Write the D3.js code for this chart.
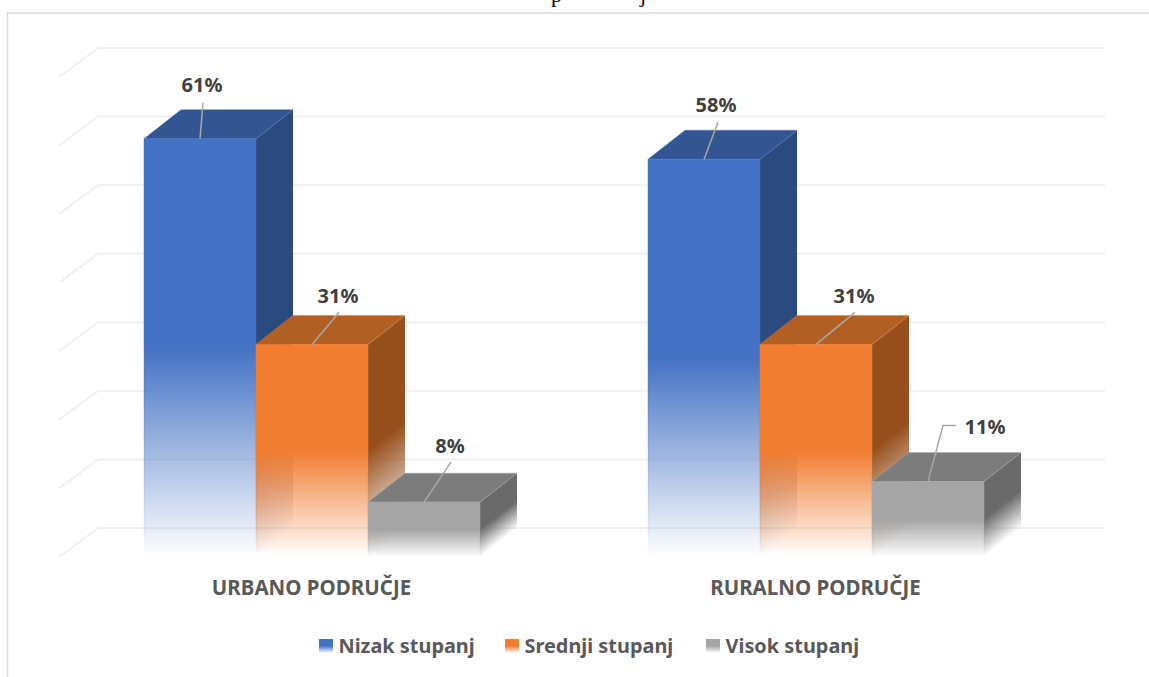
<!DOCTYPE html>
<html>
<head>
<meta charset="utf-8">
<script src="https://cdn.jsdelivr.net/npm/d3@7/dist/d3.min.js"></script>
<style>
html,body{margin:0;padding:0;background:#fff;overflow:hidden}
svg{display:block}
text{font-family:"Noto Sans",sans-serif;font-weight:700}
</style>
</head>
<body>
<svg id="chart" width="1149" height="677"></svg>
<script>
// Data
const categories = ["URBANO PODRUČJE", "RURALNO PODRUČJE"];
const seriesNames = ["Nizak stupanj", "Srednji stupanj", "Visok stupanj"];
const nizak = [61, 58];
const srednji = [31, 31];
const visok = [8, 11];
const tickValues = [0, 10, 20, 30, 40, 50, 60, 70];
const seriesValues = [nizak, srednji, visok];

// Styles
const palette = [
  {front:"#4472c4", side:"#2b4a80", top:"#335693"},
  {front:"#f07d30", side:"#97501d", top:"#b25f24"},
  {front:"#a5a5a5", side:"#6a6a6a", top:"#7c7c7c"}
];
// Leader offsets from bar-top centre per series / category, and label anchor
const leaders = [
  [{pts:[[0,0],[3,-36]], lx:2, ly:-54.7}, {pts:[[0,0],[14,-37]], lx:12, ly:-54.3}],
  [{pts:[[0,0],[27,-32]], lx:26, ly:-49.4}, {pts:[[0,0],[39,-32]], lx:38, ly:-49.4}],
  [{pts:[[0,0],[27,-40]], lx:26, ly:-56.5}, {pts:[[0,0],[15,-56],[28,-56]], lx:57, ly:-54.6}]
];

const svg = d3.select("#chart");
const depthX = 37, depthY = 29;
const x0 = d3.scaleBand().domain(categories).range([60, 1068]).paddingInner(1/3).paddingOuter(1/6);
const x1 = d3.scaleBand().domain(seriesNames).range([0, x0.bandwidth()]);
const y = d3.scaleLinear().domain([0, 70]).range([557, 77]);
const skew = Math.atan2(depthY, depthX) * 180 / Math.PI;

// gradients: solid for upper half, fading out in lower half
const defs = svg.append("defs");
function grad(id, color, end){
  const g = defs.append("linearGradient").attr("id", id).attr("x1",0).attr("y1",0).attr("x2",0).attr("y2",1);
  g.append("stop").attr("offset","50%").attr("stop-color",color).attr("stop-opacity",1);
  g.append("stop").attr("offset","100%").attr("stop-color",color).attr("stop-opacity",end);
}
palette.forEach((p,i)=>{
  grad("front"+i, p.front, 0);
  grad("side"+i, p.side, 0);
});

// chart frame
svg.append("path").attr("d","M7.5,677V13H1149").attr("fill","none").attr("stroke","#d9d9d9").attr("stroke-width",1.5);

// clipped title descenders
const titleG = svg.append("g").style("font-family",'"Liberation Serif",serif');
titleG.append("text").attr("x",551).attr("y",1.5).attr("font-size",22).style("font-family","inherit").style("font-weight",400).attr("fill","#000").text("p");
titleG.append("text").attr("x",640).attr("y",1.5).attr("font-size",22).style("font-family","inherit").style("font-weight",400).attr("fill","#000").text("j");

// gridlines
const gx0 = 59, gx2 = 1105;
svg.append("g").selectAll("path").data(tickValues).join("path")
  .attr("d", t => d3.line()([[gx0, y(t)], [gx0+depthX+2, y(t)-depthY], [gx2, y(t)-depthY]]))
  .attr("fill","none").attr("stroke","#f0f0f0").attr("stroke-width",2);

// bars
const bars = svg.append("g");
seriesNames.forEach((s,si)=>{
  categories.forEach((c,ci)=>{
    const v = seriesValues[si][ci];
    const xl = x0(c) + x1(s), w = x1.bandwidth(), top = y(v), base = y(0);
    const g = bars.append("g");
    const edge = palette[si];
    // side (sheared rect so the fade follows the depth direction)
    g.append("rect")
      .attr("x",0).attr("y",top).attr("width",depthX).attr("height",base-top)
      .attr("transform",`translate(${xl+w},0) skewY(${-skew})`)
      .attr("fill",`url(#side${si})`);
    // top
    g.append("path")
      .attr("d", d3.line()([[xl,top],[xl+depthX,top-depthY],[xl+w+depthX,top-depthY],[xl+w,top]])+"Z")
      .attr("fill",edge.top).attr("stroke",edge.front).attr("stroke-opacity",.45).attr("stroke-width",1);
    // front
    g.append("rect")
      .attr("x",xl).attr("y",top).attr("width",w).attr("height",base-top)
      .attr("fill",`url(#front${si})`).attr("stroke",`url(#front${si})`).attr("stroke-opacity",.45).attr("stroke-width",1);
  });
});

// labels & leaders
const labels = svg.append("g");
seriesNames.forEach((s,si)=>{
  categories.forEach((c,ci)=>{
    const v = seriesValues[si][ci];
    const cx = x0(c)+x1(s)+x1.bandwidth()/2, cy = y(v), L = leaders[si][ci];
    labels.append("path").attr("d", d3.line()(L.pts.map(p=>[cx+p[0],cy+p[1]])))
      .attr("fill","none").attr("stroke","#a6a6a6").attr("stroke-width",1.5);
    labels.append("text").attr("x",cx+L.lx).attr("y",cy+L.ly).attr("text-anchor","middle")
      .attr("dominant-baseline","central").attr("font-size",20).attr("fill","#404040").text(v+"%");
  });
});

// category axis labels
svg.append("g").selectAll("text").data(categories).join("text")
  .attr("x",c=>x0(c)+x0.bandwidth()/2-0.5).attr("y",595).attr("text-anchor","middle")
  .attr("font-size",20.5).attr("fill","#595959").text(c=>c);

// legend
const legendX = [319, 505, 706];
const legend = svg.append("g");
seriesNames.forEach((s,i)=>{
  legend.append("rect").attr("x",legendX[i]).attr("y",639).attr("width",14).attr("height",14).attr("fill",`url(#front${i})`);
  legend.append("text").attr("x",legendX[i]+19.5).attr("y",653).attr("font-size",19.9).attr("fill","#595959").text(s);
});
</script>
</body>
</html>
